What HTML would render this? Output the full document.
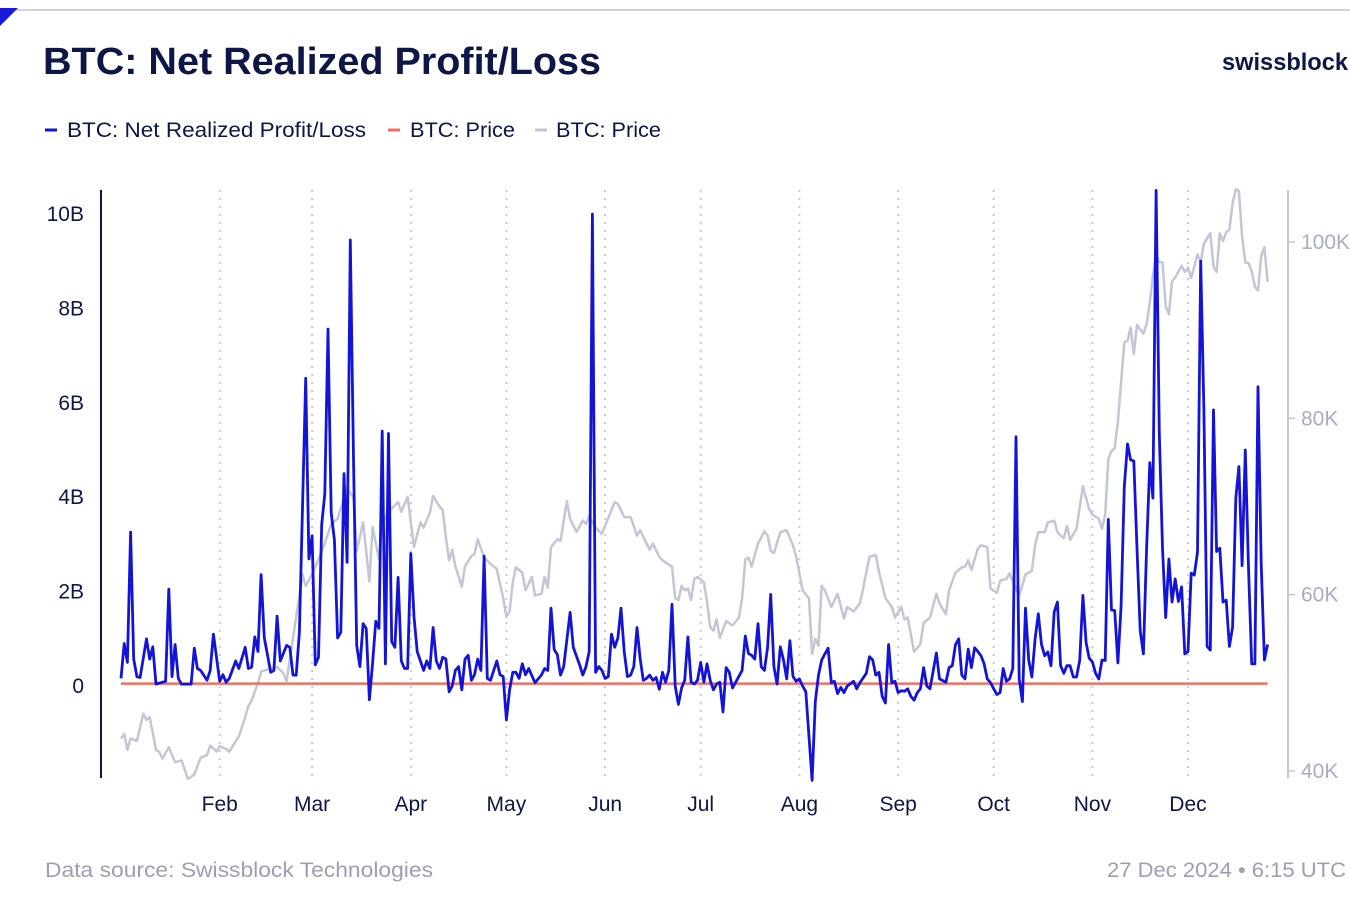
<!DOCTYPE html>
<html><head><meta charset="utf-8"><style>
body{margin:0;background:#fff;width:1350px;height:900px;overflow:hidden;font-family:"Liberation Sans",sans-serif}
</style></head><body>
<svg id="chart" width="1350" height="900" xmlns="http://www.w3.org/2000/svg">
<line x1="0" y1="10" x2="1350" y2="10" stroke="#d0d3dc" stroke-width="2"/>
<polygon points="0,8 18,8 0,26" fill="#1a1adf"/>
<text x="43" y="74" font-size="38" font-weight="bold" fill="#0c1647" textLength="558" lengthAdjust="spacingAndGlyphs">BTC: Net Realized Profit/Loss</text>
<text x="1222" y="70" font-size="24" font-weight="bold" fill="#0c1647" textLength="126" lengthAdjust="spacingAndGlyphs">swissblock</text>
<g font-size="21" fill="#0c1647">
<g><line x1="45" y1="130" x2="57" y2="130" stroke="#1414d8" stroke-width="3"/><text x="67" y="137" textLength="299" lengthAdjust="spacingAndGlyphs">BTC: Net Realized Profit/Loss</text></g>
<g><line x1="388" y1="130" x2="400" y2="130" stroke="#f07060" stroke-width="3"/><text x="410" y="137" textLength="105" lengthAdjust="spacingAndGlyphs">BTC: Price</text></g>
<g><line x1="535" y1="130" x2="547" y2="130" stroke="#c3c6d4" stroke-width="3"/><text x="556" y="137" textLength="105" lengthAdjust="spacingAndGlyphs">BTC: Price</text></g>
</g>
<g id="grid"></g><g id="series"></g><g id="axes"></g>
<text x="45" y="877" font-size="21" fill="#9aa0b4" textLength="388" lengthAdjust="spacingAndGlyphs">Data source: Swissblock Technologies</text>
<text x="1107" y="877" font-size="21" fill="#9aa0b4" textLength="239" lengthAdjust="spacingAndGlyphs">27 Dec 2024 • 6:15 UTC</text>
</svg>
<script>
const nplDays=[0,1,2,3,4,5,6,8,9,10,11,14,15,16,17,18,19,22,23,24,25,27,28,29,31,32,33,34,36,37,39,40,41,42,43,44,45,47,48,49,50,52,53,54,55,56,58,59,60,61,62,63,64,65,66,67,68,69,70,71,72,73,74,75,76,77,78,79,80,81,82,83,84,85,86,87,88,89,90,91,92,93,95,96,97,98,99,100,101,102,103,104,105,106,107,108,109,110,111,112,113,114,115,116,118,119,120,121,122,123,124,125,126,127,128,130,132,133,134,135,136,137,138,139,141,142,144,145,146,147,148,149,150,151,152,153,154,155,156,157,158,159,160,161,162,163,164,165,166,167,168,169,170,171,172,173,174,175,176,177,178,179,180,181,182,183,184,185,186,187,188,189,190,191,192,193,195,196,197,198,199,200,201,202,203,204,205,206,207,208,209,210,211,212,213,214,215,217,218,219,220,221,222,223,224,225,226,227,228,230,231,232,234,235,236,237,238,239,240,241,242,243,244,245,246,247,248,249,250,251,252,253,254,256,257,259,260,261,262,263,264,265,266,267,268,269,270,271,272,273,274,275,276,277,278,279,280,281,282,283,284,285,286,287,288,289,290,291,292,293,294,295,296,297,298,299,300,301,302,303,304,305,306,307,308,309,310,311,312,313,314,315,316,317,318,319,320,321,322,323,324,325,326,327,328,329,330,331,332,333,334,335,336,337,338,339,340,341,342,343,344,345,346,347,348,349,350,351,352,353,354,355,356,357,358,359,360];
const nplValues=[0.16,0.9,0.5,3.26,0.57,0.2,0.18,1.0,0.57,0.83,0.04,0.1,2.05,0.2,0.88,0.16,0.04,0.04,0.8,0.37,0.33,0.12,0.33,1.1,0.1,0.24,0.08,0.16,0.53,0.37,0.82,0.37,0.4,1.04,0.73,2.36,1.02,0.29,0.33,1.48,0.53,0.86,0.82,0.23,0.23,1.14,6.52,2.69,3.18,0.45,0.61,3.42,4.07,7.56,3.67,3.1,1.02,1.14,4.5,2.62,9.45,4.81,0.86,0.41,1.32,1.22,-0.29,0.49,1.37,1.22,5.4,0.47,5.35,0.94,0.82,2.3,0.53,0.37,0.37,2.81,1.47,0.73,0.33,0.53,0.37,1.24,0.53,0.37,0.61,0.57,-0.12,0,0.33,0.41,-0.08,0.57,0.65,0.12,0.24,0.57,0.33,2.75,0.16,0.12,0.53,0.24,0.2,-0.72,-0.08,0.29,0.29,0.16,0.47,0.24,0.37,0.07,0.23,0.37,0.33,1.65,0.77,0.67,0.23,0.41,1.56,0.82,0.45,0.23,0.41,0.73,10.0,0.29,0.41,0.33,0.16,0.2,1.1,0.82,1.02,1.65,0.73,0.2,0.23,0.41,1.24,0.57,0.12,0.16,0.23,0.12,0.18,-0.07,0.29,0.08,0.33,1.73,0,-0.39,-0.04,0.12,1.04,0.08,0.04,0.12,0.5,0.08,0.47,0.12,-0.08,0.04,0.08,-0.55,0.39,0.29,-0.04,0.08,0.33,1.06,0.69,0.65,0.57,1.32,0.41,0.33,0.82,1.94,0.41,0.04,0.83,0.55,0.15,0.96,0.2,0.1,0.15,0,-0.12,-2.0,-0.33,0.23,0.55,0.68,0.8,0.07,0.1,-0.16,-0.03,-0.14,0,0.1,-0.06,0.07,0.27,0.62,0.55,0.23,0.29,-0.22,-0.36,0.88,0.07,0.1,-0.14,-0.1,-0.11,-0.06,-0.22,-0.3,-0.14,-0.06,0.39,0,-0.06,0.7,0.15,0.08,0.39,0.43,0.88,1.0,0.23,0.15,0.78,0.39,0.81,0.73,0.64,0.47,0.15,0.07,-0.06,-0.18,-0.14,0.37,0.1,0.15,0.37,5.28,0.15,-0.33,1.65,0.55,0.19,1.0,1.53,0.88,0.64,0.72,0.43,1.57,1.78,0.43,0.27,0.43,0.43,0.19,0.19,0.54,1.92,0.92,0.59,0.51,0.27,0.15,0.55,0.54,3.53,1.61,1.6,0.49,1.7,4.22,5.13,4.79,4.77,2.92,1.17,0.68,2.92,4.73,3.98,10.5,5.36,2.92,1.45,2.69,1.78,2.27,1.79,2.1,0.68,0.73,2.39,2.35,2.84,9.0,5.85,0.84,0.76,5.85,2.85,2.92,1.78,1.82,0.84,1.25,3.98,4.65,2.55,5.0,2.51,0.47,0.47,6.34,2.59,0.55,0.88];
const priceDays=[0,1,2,3,5,7,8,9,11,12,13,15,17,19,21,23,25,27,28,30,31,33,34,37,39,40,41,43,44,46,49,51,52,57,58,60,62,64,66,68,71,73,74,76,78,79,81,82,84,87,88,90,92,94,95,97,98,100,101,102,103,104,105,107,108,110,111,112,114,116,118,120,121,122,123,124,126,127,129,130,132,133,134,135,137,138,140,141,143,145,146,147,149,151,154,155,156,158,160,162,163,165,166,167,169,170,172,173,174,175,176,177,178,179,180,181,183,184,185,186,187,188,190,192,194,195,196,197,198,200,201,202,203,204,205,207,209,211,212,214,216,217,218,219,220,221,223,225,227,228,230,232,233,235,237,238,240,242,243,245,246,247,249,251,252,254,256,257,259,260,262,264,265,266,267,269,270,272,273,275,276,278,279,281,282,284,286,287,288,290,291,293,294,295,296,297,298,300,301,302,304,305,307,308,309,310,311,312,313,315,316,317,318,319,320,321,322,323,324,325,326,327,328,329,330,331,333,334,335,336,338,339,340,342,343,344,345,346,347,348,349,350,351,352,353,354,355,356,357,358,359,360];
const priceValues=[43.7,44.2,42.4,43.7,43.4,46.5,45.8,46.1,42.4,42.2,41.4,42.7,41.0,41.2,39.1,39.6,41.5,41.8,42.9,42.2,42.8,42.5,42.2,43.9,46.1,47.4,48.0,50.0,51.3,51.5,51.8,51.1,50.2,62.3,61.0,62.3,64.0,65.8,68.0,68.6,72.1,71.0,64.9,68.2,61.5,67.7,64.0,68.1,69.4,70.5,69.4,71.1,65.4,68.2,67.6,69.3,71.2,70.0,69.6,66.5,63.9,65.1,63.2,60.9,63.2,64.4,64.6,66.3,64.2,63.5,62.9,59.6,57.5,58.1,61.4,63.1,62.5,60.5,62.0,59.9,60.1,62.0,60.8,65.4,66.3,66.1,70.6,68.6,67.1,68.4,68.0,68.9,67.6,66.9,69.6,70.5,70.3,68.8,68.8,66.7,67.3,65.8,65.1,65.8,64.3,63.9,63.4,63.2,59.6,59.4,61.0,60.5,60.7,59.4,61.8,62.0,61.4,59.2,56.3,55.9,57.2,55.1,57.0,56.5,57.4,59.6,64.0,64.2,63.2,65.8,66.5,67.2,66.7,65.0,64.7,67.1,67.3,65.6,64.3,60.5,59.6,53.3,55.0,54.2,61.0,60.5,58.6,60.1,57.3,58.6,58.1,59.0,60.7,64.3,64.5,62.6,59.6,58.6,57.4,58.6,57.2,57.4,53.5,54.4,56.8,57.4,60.1,59.0,57.8,60.5,62.5,63.1,63.2,63.9,62.8,65.2,65.6,65.4,60.7,60.2,61.6,61.8,62.4,60.7,59.9,62.3,62.7,65.6,67.1,67.1,68.2,68.4,67.1,66.7,66.4,67.8,66.2,67.5,69.9,72.3,69.7,69.1,68.6,67.5,69.1,75.4,76.3,76.6,79.6,88.6,88.8,90.3,87.3,90.6,90.1,89.6,90.7,93.1,96.2,98.6,97.7,97.7,92.7,91.8,95.5,96.0,97.3,96.6,97.1,95.9,98.6,97.7,99.8,101.0,97.2,96.6,101.0,100.1,101.1,101.4,104.4,106.0,105.8,100.6,97.7,97.6,96.7,94.9,94.5,98.4,99.4,95.5];
const redDays=[0,360];
const redValues=[0.05,0.05];
const months=["Feb","Mar","Apr","May","Jun","Jul","Aug","Sep","Oct","Nov","Dec"];
const monthDays=[31,60,91,121,152,182,213,244,274,305,335];
const leftTicks=[0,2,4,6,8,10];
const leftLabels=["0","2B","4B","6B","8B","10B"];
const rightTicks=[40,60,80,100];
const rightLabels=["40K","60K","80K","100K"];

const X=d=>121+d*3.185;
const YL=v=>686-v*47.2;
const YR=p=>242+(100-p)*8.817;
const NS="http://www.w3.org/2000/svg";
function mk(parent,tag,attrs){const e=document.createElementNS(NS,tag);for(const k in attrs)e.setAttribute(k,attrs[k]);parent.appendChild(e);return e;}
const grid=document.getElementById('grid'),series=document.getElementById('series'),axes=document.getElementById('axes');

monthDays.forEach((d,i)=>{
  const l=mk(grid,'line',{x1:X(d),x2:X(d),y1:190,y2:778,stroke:'#c8cbd6','stroke-width':2,'stroke-dasharray':'2 6'});
  
  
  const t=mk(axes,'text',{x:X(d),y:811,'font-size':21,fill:'#0c1647','text-anchor':'middle'});
  t.textContent=months[i];
  
  
});

function path(days,vals,yf){return days.map((d,i)=>(i?'L':'M')+X(d).toFixed(1)+','+yf(vals[i]).toFixed(1)).join('');}
const pg=mk(series,'path',{d:path(priceDays,priceValues,YR),fill:'none',stroke:'#c3c6d4','stroke-width':2.5,'stroke-linejoin':'round'});


const pr=mk(series,'path',{d:path(redDays,redValues,YL),fill:'none',stroke:'#f07060','stroke-width':2.5});


const pn=mk(series,'path',{d:path(nplDays,nplValues,YL),fill:'none',stroke:'#1414d8','stroke-width':2.8,'stroke-linejoin':'round'});



const la=mk(axes,'line',{x1:101,x2:101,y1:190,y2:778,stroke:'#0c1647','stroke-width':2});


leftTicks.forEach((v,i)=>{
  const t=mk(axes,'text',{x:84,y:YL(v)+7,'font-size':21,fill:'#0c1647','text-anchor':'end'});
  t.textContent=leftLabels[i];
  
  
});
const ra=mk(axes,'line',{x1:1288,x2:1288,y1:190,y2:778,stroke:'#c3c6d4','stroke-width':2});


rightTicks.forEach((v,i)=>{
  const tk=mk(axes,'line',{x1:1288,x2:1295,y1:YR(v),y2:YR(v),stroke:'#c3c6d4','stroke-width':1.5});
  
  
  const t=mk(axes,'text',{x:1301,y:YR(v)+7,'font-size':21,fill:'#a8adc0'});
  t.textContent=rightLabels[i];
  
  
});
</script>
</body></html>
